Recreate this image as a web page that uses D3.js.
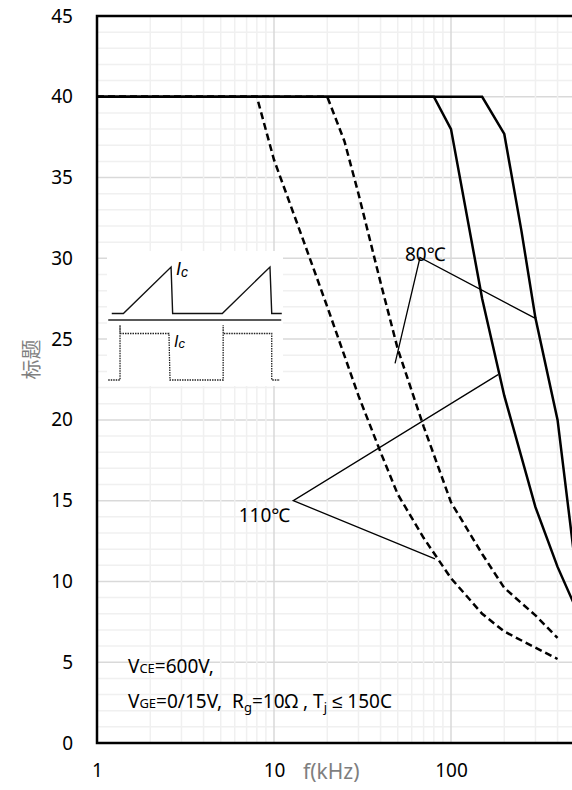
<!DOCTYPE html>
<html>
<head>
<meta charset="utf-8">
<script src="https://cdn.jsdelivr.net/npm/d3@7"></script>
<style>
  body { margin: 0; background: #fff; }
  svg { display: block; font-family: "Noto Sans", "Liberation Sans", sans-serif; }
</style>
</head>
<body>
<div id="chart"></div>
<script>
// curve data, f in kHz, value on y
const freqA = [1, 8, 10, 15, 20, 30, 40, 50, 70, 100, 150, 200, 300, 400];
const curveA = [40, 40, 36.1, 30.8, 27.0, 21.5, 18.0, 15.4, 12.7, 10.2, 8.0, 6.9, 5.9, 5.2];
const freqB = [1, 20, 25, 30, 40, 50, 70, 100, 150, 200, 300, 400];
const curveB = [40, 40, 37.25, 34.0, 28.5, 24.4, 19.6, 14.9, 11.7, 9.6, 7.9, 6.5];
const freqC = [1, 80, 100, 150, 200, 300, 400, 500];
const curveC = [40, 40, 38.0, 27.5, 21.5, 14.6, 10.9, 8.5];
const freqD = [1, 150, 200, 250, 300, 400, 500];
const curveD = [40, 40, 37.7, 31.7, 26.3, 20.0, 11.3];

const yTicks = [0, 5, 10, 15, 20, 25, 30, 35, 40, 45];
const xTicks = [1, 10, 100];
const xDecades = [1, 10, 100, 1000];

// leader lines for temperature labels: [f, value]
const leader80 = [[298, 26.3], [66.8, 30.05], [48.3, 23.5]];
const leader110 = [[184.5, 22.8], [12.85, 15.0], [81.2, 11.4]];

// inset waveform (time 0..10, level 0..1)
const sawT = [0.27, 0.93, 3.64, 3.73, 6.55, 9.26, 9.36, 9.93];
const sawL = [0, 0, 1, 0, 0, 1, 0, 0];
const sqT = [0.07, 0.74, 0.74, 0.74, 3.52, 3.58, 6.6, 6.6, 6.6, 9.36, 9.36, 9.83];
const sqL = [0, 0, 1.18, 1, 1, 0, 0, 1.18, 1, 1, 0, 0];

const width = 572, height = 790;
const margin = { top: 16, left: 97, bottom: 47 };

const svg = d3.select("#chart").append("svg")
  .attr("width", width)
  .attr("height", height);

const x = d3.scaleLog().domain([1, 1000]).range([margin.left, margin.left + 3 * 177]);
const y = d3.scaleLinear().domain([0, 45]).range([height - margin.bottom, margin.top]);

const x0 = x.range()[0], x1 = x.range()[1];
const yBottom = y(0), yTop = y(45);

// grid
const grid = svg.append("g");
grid.selectAll("line.hminor")
  .data(d3.range(1, 45))
  .join("line")
  .attr("x1", x0).attr("x2", x1)
  .attr("y1", d => y(d)).attr("y2", d => y(d))
  .attr("stroke", d => d % 5 == 0 ? "#d9d9d9" : "#f0f0f0")
  .attr("stroke-width", 1.5);
grid.selectAll("line.vminor")
  .data(x.ticks())
  .join("line")
  .attr("x1", d => x(d)).attr("x2", d => x(d))
  .attr("y1", yTop).attr("y2", yBottom)
  .attr("stroke", d => xDecades.includes(d) ? "#d9d9d9" : "#f0f0f0")
  .attr("stroke-width", 1.5);

// axes
const yAxis = svg.append("g")
  .attr("transform", "translate(" + x0 + ",0)")
  .call(d3.axisLeft(y).tickValues(yTicks).tickSize(0).tickPadding(24));
const xAxis = svg.append("g")
  .attr("transform", "translate(0," + yBottom + ")")
  .call(d3.axisBottom(x).tickValues(xTicks).tickFormat(d3.format("d")).tickSize(0).tickPadding(21));
[yAxis, xAxis].forEach(g => {
  g.select(".domain").remove();
  g.selectAll("text").attr("font-size", 19).attr("fill", "#000")
    .attr("font-family", "'Noto Sans', sans-serif");
});

// border
svg.append("path")
  .attr("d", "M" + x1 + "," + yTop + "H" + x0 + "V" + yBottom + "H" + x1)
  .attr("fill", "none")
  .attr("stroke", "#000")
  .attr("stroke-width", 2.5);

// axis titles
svg.append("text")
  .attr("transform", "translate(39," + ((yTop + yBottom) / 2 - 20) + ") rotate(-90)")
  .attr("text-anchor", "middle")
  .attr("font-family", "'Noto Sans CJK SC', sans-serif")
  .attr("font-size", 20)
  .attr("fill", "#7f7f7f")
  .text("标题");
svg.append("text")
  .attr("x", x(10) + 29).attr("y", yBottom + 36)
  .attr("font-size", 21)
  .attr("fill", "#7f7f7f")
  .text("f(kHz)");

// curves
const line = d3.line().x(d => x(d[0])).y(d => y(d[1]));
const curves = [
  { f: freqA, v: curveA, dash: "7,4" },
  { f: freqB, v: curveB, dash: "7,4" },
  { f: freqC, v: curveC, dash: null },
  { f: freqD, v: curveD, dash: null }
];
curves.forEach(c => {
  svg.append("path")
    .datum(c.f.map((f, i) => [f, c.v[i]]))
    .attr("fill", "none")
    .attr("stroke", "#000")
    .attr("stroke-width", 2.5)
    .attr("stroke-dasharray", c.dash)
    .attr("d", line);
});

// temperature leaders
[leader80, leader110].forEach(pts => {
  svg.append("path")
    .datum(pts)
    .attr("fill", "none")
    .attr("stroke", "#000")
    .attr("stroke-width", 1.3)
    .attr("d", line);
});
svg.append("text")
  .attr("x", x(leader80[1][0]) - 15).attr("y", y(leader80[1][1]) + 3)
  .attr("font-size", 19)
  .text("80℃");
svg.append("text")
  .attr("x", x(leader110[1][0]) - 3).attr("y", y(leader110[1][1]) + 21)
  .attr("text-anchor", "end")
  .attr("font-size", 19)
  .text("110℃");

// conditions text
const cond = svg.append("text").attr("font-size", 19).attr("fill", "#000");
cond.append("tspan").attr("x", 128).attr("y", 673).text("V");
cond.append("tspan").attr("font-size", 13).text("CE");
cond.append("tspan").text("=600V,");
const cond2 = svg.append("text").attr("font-size", 19).attr("fill", "#000")
  .attr("x", 128).attr("y", 708);
cond2.append("tspan").text("V");
cond2.append("tspan").attr("font-size", 13).text("GE");
cond2.append("tspan").text("=0/15V,\u00a0\u00a0R");
cond2.append("tspan").attr("font-size", 13).attr("dy", 4).text("g");
cond2.append("tspan").attr("dy", -4).text("=10Ω , T");
cond2.append("tspan").attr("font-size", 13).attr("dy", 4).text("j");
cond2.append("tspan").attr("dy", -4).text(" ≤ 150C");

// inset waveform picture
const inset = svg.append("g");
const ix = d3.scaleLinear().domain([0, 10]).range([107, 283]);
const iyTop = d3.scaleLinear().domain([0, 1]).range([313.5, 267]);
const iyBot = d3.scaleLinear().domain([0, 1]).range([380, 333.5]);
inset.append("rect")
  .attr("x", ix(0)).attr("y", 251)
  .attr("width", ix(10) - ix(0)).attr("height", 135)
  .attr("fill", "#fff");
inset.append("path")
  .datum(sawT.map((t, i) => [t, sawL[i]]))
  .attr("fill", "none").attr("stroke", "#111").attr("stroke-width", 1.4)
  .attr("d", d3.line().x(d => ix(d[0])).y(d => iyTop(d[1])));
inset.append("line")
  .attr("x1", ix(0.07)).attr("x2", ix(9.9))
  .attr("y1", 320).attr("y2", 320)
  .attr("stroke", "#595959").attr("stroke-width", 2);
inset.append("path")
  .datum(sqT.map((t, i) => [t, sqL[i]]))
  .attr("fill", "none").attr("stroke", "#222").attr("stroke-width", 1.3)
  .attr("stroke-dasharray", "1.5,1")
  .attr("d", d3.line().x(d => ix(d[0])).y(d => iyBot(d[1])));
const ic1 = inset.append("text").attr("x", 176).attr("y", 275)
  .attr("font-family", "'Liberation Sans', Arial, sans-serif")
  .attr("font-style", "italic").attr("font-size", 18);
ic1.append("tspan").text("I");
ic1.append("tspan").attr("font-size", 14).attr("dy", 2).text("c");
const ic2 = inset.append("text").attr("x", 174).attr("y", 347)
  .attr("font-family", "'Liberation Sans', Arial, sans-serif")
  .attr("font-style", "italic").attr("font-size", 16);
ic2.append("tspan").text("I");
ic2.append("tspan").attr("font-size", 13).attr("dy", 1).text("c");
</script>
</body>
</html>
